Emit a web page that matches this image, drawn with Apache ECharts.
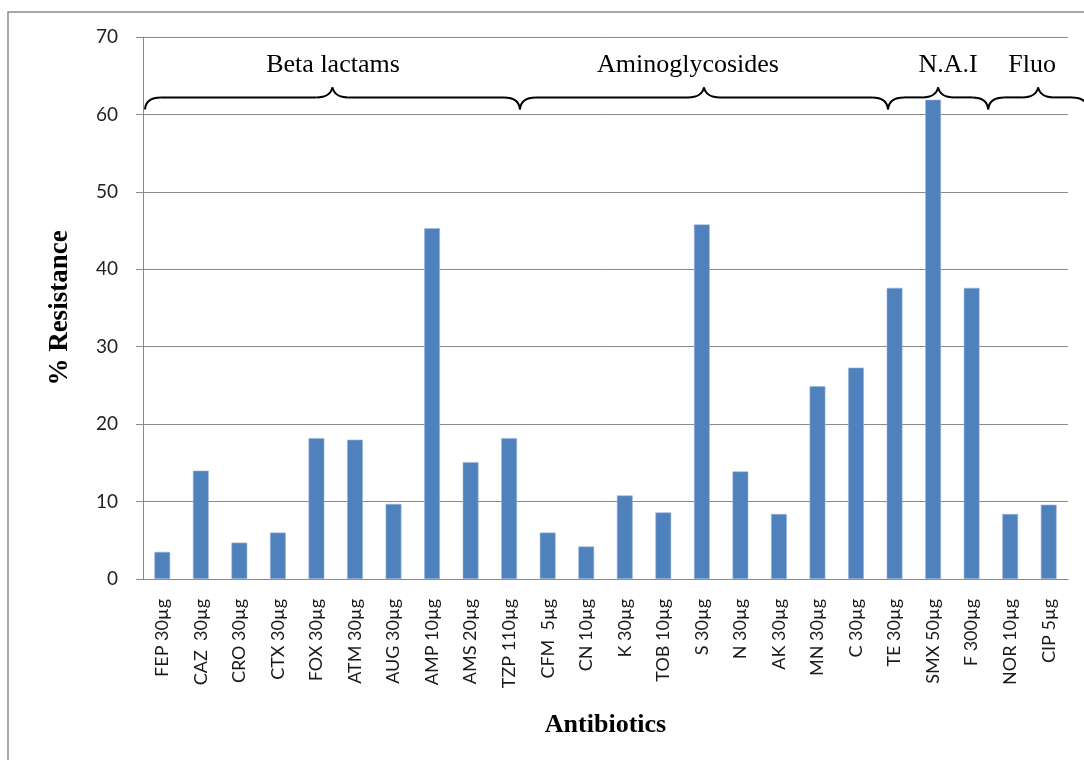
<!DOCTYPE html>
<html>
<head>
<meta charset="utf-8">
<script src="https://cdn.jsdelivr.net/npm/echarts@6/dist/echarts.min.js"></script>
<style>
html,body{margin:0;padding:0;background:#fff;}
#chart{width:1084px;height:760px;}
</style>
</head>
<body>
<div id="chart"></div>
<script>
// ---- data ----
const categories = ['FEP 30µg','CAZ  30µg','CRO 30µg','CTX 30µg','FOX 30µg','ATM 30µg','AUG 30µg','AMP 10µg','AMS 20µg','TZP 110µg',
  'CFM  5µg','CN 10µg','K 30µg','TOB 10µg','S 30µg','N 30µg','AK 30µg','MN 30µg','C 30µg','TE 30µg',
  'SMX 50µg','F 300µg','NOR 10µg','CIP 5µg'];
const resistance = [3.5,14.0,4.7,6.0,18.2,18.0,9.7,45.3,15.1,18.2,
  6.0,4.2,10.8,8.6,45.8,13.9,8.4,24.9,27.3,37.6,
  61.9,37.6,8.4,9.6];
const yTicks = [0,10,20,30,40,50,60,70];
// antibiotic families, brace spans and title positions in category units
const groupNames = ['Beta lactams','Aminoglycosides','N.A.I','Fluo'];
const groupStart = [0.05, 9.78, 19.33, 21.93];
const groupEnd   = [9.78, 19.33, 21.93, 24.52];
const groupTitleAt = [4.93, 14.14, 20.89, 23.07];
const groupLevel = 62.2;   // brace level on value axis
const labelLevel = 66.3;   // group title level

const chart = echarts.init(document.getElementById('chart'));
const grid = {left:143, right:16, top:37, bottom:181};
chart.setOption({
  animation:false,
  grid:grid,
  xAxis:{
    type:'category', data:categories,
    axisLine:{lineStyle:{color:'#8a8a8a',width:1}},
    axisTick:{show:false},
    axisLabel:{interval:0, rotate:90, margin:20, fontFamily:'Lato', fontSize:18, color:'#1a1a1a'},
    name:'Antibiotics', nameLocation:'middle', nameGap:133,
    nameTextStyle:{fontFamily:'Liberation Serif', fontWeight:'bold', fontSize:26, color:'#000'}
  },
  yAxis:{
    type:'value', min:yTicks[0], max:yTicks[yTicks.length-1], interval:10,
    axisLine:{show:true, lineStyle:{color:'#8a8a8a',width:1}},
    axisTick:{show:true, length:7, lineStyle:{color:'#8a8a8a'}},
    splitLine:{lineStyle:{color:'#8a8a8a',width:1}},
    axisLabel:{margin:25, fontFamily:'Lato', fontSize:19, color:'#222'},
    name:'% Resistance', nameLocation:'middle', nameGap:69, nameRotate:90,
    nameTextStyle:{fontFamily:'Liberation Serif', fontWeight:'bold', fontSize:27, color:'#000'}
  },
  series:[{
    type:'bar', data:resistance, barWidth:'41%',
    itemStyle:{color:'#4F81BD', borderColor:'#9fb9dc', borderWidth:0.6}
  }]
});

// braces and group titles, positioned via the chart's own axes
const c0 = chart.convertToPixel({xAxisIndex:0}, 0);
const c1 = chart.convertToPixel({xAxisIndex:0}, 1);
const step = c1 - c0;
const left0 = c0 - step/2;
const ux = u => left0 + u*step;
const yB = chart.convertToPixel({yAxisIndex:0}, groupLevel);
const yL = chart.convertToPixel({yAxisIndex:0}, labelLevel);
const graphics = [{
  type:'rect', shape:{x:8, y:12, width:1200, height:900},
  style:{fill:'none', stroke:'#8c8c8c', lineWidth:1.5}, z:0, silent:true
}];
const bStyle = {fill:'none', stroke:'#000', lineWidth:2};
function curve(x1,y1,cx,cy,x2,y2){
  graphics.push({type:'bezierCurve', shape:{x1:x1,y1:y1,cpx1:cx,cpy1:cy,x2:x2,y2:y2}, style:bStyle, z:10, silent:true});
}
function seg(x1,y1,x2,y2){
  graphics.push({type:'line', shape:{x1:x1,y1:y1,x2:x2,y2:y2}, style:bStyle, z:10, silent:true});
}
groupNames.forEach((name,i)=>{
  const x1 = ux(groupStart[i]), x2 = ux(groupEnd[i]);
  const t = (x1+x2)/2;
  const w = Math.min(16, (x2-x1)/6);
  curve(x1, yB+12, x1+1, yB, x1+w, yB);
  seg(x1+w, yB, t-w, yB);
  curve(t-w, yB, t-2, yB, t, yB-10);
  curve(t, yB-10, t+2, yB, t+w, yB);
  seg(t+w, yB, x2-w, yB);
  curve(x2-w, yB, x2-1, yB, x2, yB+12);
  graphics.push({type:'text', x:ux(groupTitleAt[i]), y:yL, style:{text:name, fontFamily:'Liberation Serif', fontSize:26, fill:'#000', align:'center', verticalAlign:'middle'}, z:10, silent:true});
});
chart.setOption({graphic:graphics});
</script>
</body>
</html>
